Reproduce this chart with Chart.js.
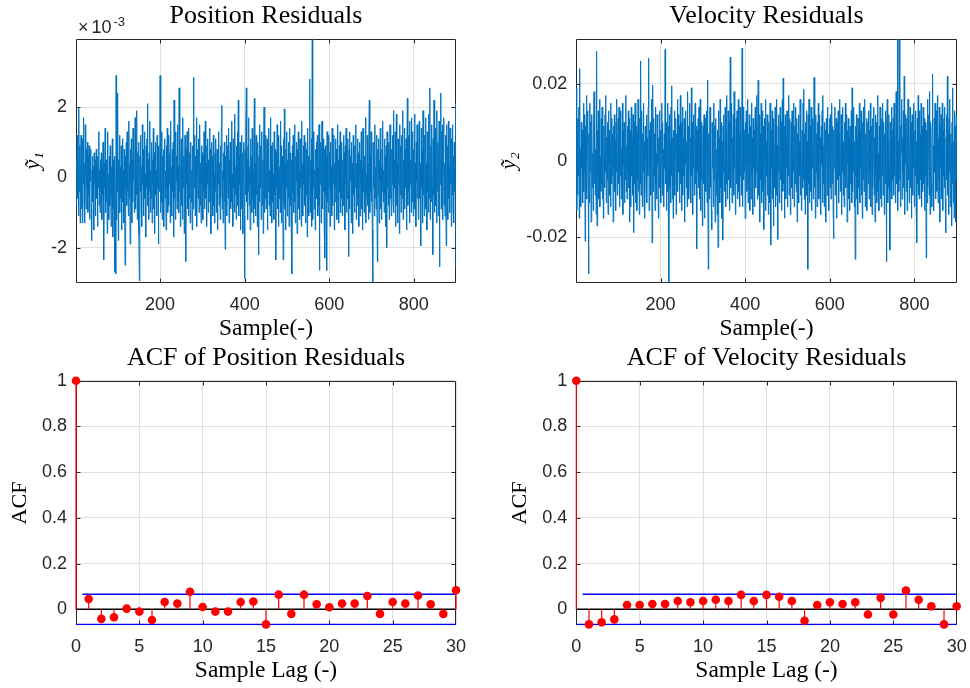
<!DOCTYPE html>
<html>
<head>
<meta charset="utf-8">
<script src="https://cdn.jsdelivr.net/npm/chart.js@4/dist/chart.umd.min.js"></script>
<style>
  html, body { margin: 0; padding: 0; background: #fff; width: 970px; height: 688px; overflow: hidden; }
  canvas { position: absolute; }
</style>
</head>
<body>
<canvas id="posRes" width="532" height="340" style="left:0;top:0"></canvas>
<canvas id="velRes" width="553" height="340" style="left:490px;top:0"></canvas>
<canvas id="posAcf" width="532" height="348" style="left:0;top:340px"></canvas>
<canvas id="velAcf" width="553" height="348" style="left:490px;top:340px"></canvas>
<script>
// ---- tick labels ----
const sampleTicks = [200, 400, 600, 800];
const posTicks = [-2, 0, 2];            // position residual, x10^-3
const velTicks = [-0.02, 0, 0.02];
const lagTicks = [0, 5, 10, 15, 20, 25, 30];
const acfTicks = [0, 0.2, 0.4, 0.6, 0.8, 1];

// ---- position residuals (units of 1e-3) ----
const posResid = [
  -0.8, 0.5, 0.1, 1.2, -0.6, 0.3, -1.1, 2.0, -0.4, 0.9,
  -1.3, 0.2, 1.2, -0.9, 0.6, -1.3, 1.1, -0.2, 1.7, -0.7,
  0.4, -1.3, 1.5, 0.1, -0.9, 0.8, -0.3, 1.0, -1.0, 0.6,
  -0.5, 0.9, -1.2, 0.4, -0.1, 0.8, -0.9, -1.8, 0.2, 0.6,
  -0.7, 0.3, -1.5, 0.7, -0.2, 0.5, -1.1, 0.1, 0.8, -0.6,
  0.3, -1.4, 0.6, -0.3, 1.3, -0.8, 0.2, -1.0, 0.5, -0.4,
  0.7, -1.2, 0.3, -0.5, 1.0, -0.9, -2.35, 0.4, -0.3, 1.4,
  -1.0, 0.2, -0.7, 0.5, -1.6, 1.3, -0.4, 0.1, -1.2, 0.6,
  -0.8, 0.9, -0.2, -1.4, 0.3, -0.6, 1.1, -1.7, 0.5, -0.9,
  0.4, -2.7, 0.6, -0.8, -2.75, 2.9, -1.2, 0.7, -0.4, 2.4,
  -1.8, 0.5, -0.2, 1.2, -1.0, 0.3, -0.6, 0.9, -1.5, 0.4,
  1.1, -0.7, 0.2, -1.3, 0.8, -0.5, -2.5, 0.6, -0.3, 1.0,
  -0.8, 1.3, -0.4, 0.1, -1.1, 1.6, -0.6, 0.4, -1.9, 0.8,
  -0.2, 1.1, -1.3, 0.5, -0.7, 1.4, -0.1, 0.6, -1.0, 0.3,
  1.7, -0.9, 0.2, -0.5, 1.9, -1.2, 0.7, -0.3, 1.0, -1.6,
  -2.95, 0.6, -0.4, 1.2, -0.9, 0.3, -1.4, 1.5, -0.2, 0.8,
  -1.1, 0.4, 1.3, -0.6, 0.1, -1.7, 0.9, -0.3, 1.1, 2.1,
  -0.8, 0.5, -1.2, 0.7, -0.4, 1.6, -1.0, 0.2, -0.6, 1.0,
  -1.3, 0.5, -0.2, 1.4, -0.9, 0.7, -1.6, 0.3, 1.0, -0.5,
  0.2, -1.1, 1.2, -0.3, 0.6, -1.9, 0.9, -0.4, 0.1, 2.9,
  -1.0, 0.4, -0.7, 1.3, -1.2, 0.6, -0.1, 0.8, -1.4, 0.3,
  1.1, -0.6, 0.2, -1.5, 0.9, -0.3, 1.4, -1.0, 0.5, -0.8,
  1.2, -0.2, 0.7, -1.3, 1.6, -0.5, 0.3, -1.1, 0.8, -0.4,
  1.0, -1.7, 2.2, -0.6, 0.4, -1.2, 1.3, -0.1, 0.6, -0.9,
  1.5, -0.7, 0.3, -1.0, 2.55, -0.4, 0.9, -1.4, 0.2, 1.1,
  -0.8, 0.5, -1.2, 1.7, -0.3, 0.6, -1.6, 0.4, 1.2, -0.5,
  -2.4, 0.8, -0.2, 1.3, -0.9, 0.1, -1.1, 1.4, -0.6, 0.7,
  -1.3, 0.4, 1.0, -0.7, 0.2, -1.5, 0.9, -0.9, 2.85, 0.5,
  -0.3, 1.2, -1.1, 0.6, -0.5, 1.7, -1.4, 0.3, 0.8, -0.6,
  1.1, -1.0, 0.2, 1.5, -0.8, 0.4, -1.3, 0.9, -0.2, 0.7,
  -1.2, 0.6, -0.4, 1.3, -0.9, 0.2, 1.6, -0.6, 0.4, -1.4,
  0.9, -0.2, 1.1, -1.0, 0.5, -0.7, 1.4, -0.3, 0.8, -1.6,
  0.3, 1.0, -0.5, 0.6, -1.1, 1.2, -0.8, 0.1, -1.3, 0.7,
  -0.4, 1.1, -1.0, 0.3, 0.8, -1.5, 0.5, -0.2, 1.3, -0.8,
  0.4, -1.2, 0.9, -0.6, 1.5, 2.05, -0.9, 0.2, -1.3, 0.7,
  -0.1, 1.0, -0.7, -2.05, 0.6, -0.4, 1.2, -1.1, 0.3, 0.9,
  -0.6, 1.4, -1.3, 0.5, -0.2, 1.0, -0.9, 0.4, 1.6, -0.7,
  0.1, -1.4, 1.1, -0.3, 0.7, -1.0, 1.8, -0.5, 0.3, -1.2,
  0.9, -0.4, 1.3, -0.8, 2.2, -1.1, 0.6, -0.2, 1.0, -1.5,
  0.4, -0.9, 1.2, -0.3, 0.7, -1.6, 0.2, 1.0, -1.1, -2.87,
  0.8, -0.5, 1.3, 2.55, -0.7, 0.5, -1.2, 0.9, -0.4, 1.7,
  -0.8, 0.3, -1.5, 1.1, -0.2, 0.6, -1.0, 1.4, -0.6, 0.2,
  -1.3, 0.8, 2.25, -0.9, 0.4, -1.1, 1.2, -0.5, 0.7, -1.4,
  1.0, -0.2, -2.2, 0.6, -0.7, 1.5, -0.3, 0.9, -1.2, 0.2,
  1.3, -0.8, 0.5, -1.6, 1.1, 2.0, -1.0, 0.4, -0.6, 1.2,
  -0.9, 0.3, 1.1, -1.5, 0.6, -0.4, 1.4, -0.8, 0.2, -1.1,
  1.7, -0.6, 0.9, -1.3, 0.4, 1.0, -0.7, 0.1, -1.2, 1.3,
  -0.5, 0.8, -1.0, -2.35, 0.7, -0.3, 1.5, -0.9, 0.5, -1.4,
  1.2, -0.6, 0.3, -1.0, 1.6, -0.4, 0.9, -1.3, 0.6, -0.2,
  -2.35, 1.1, -0.7, 1.95, -0.9, 0.4, -1.5, 0.8, -0.3, 1.3,
  -1.1, 0.5, -0.6, 1.0, -1.4, 0.2, 1.4, -0.8, 0.7, -1.2,
  0.5, -2.75, 0.9, -0.4, 1.2, -1.0, 0.3, -0.7, 1.5, -1.3,
  0.6, -0.1, 1.0, -1.6, 0.8, -0.5, 1.3, -0.9, 0.2, -1.2,
  1.1, -0.3, 0.7, -1.4, 1.6, -0.6, 0.4, -1.1, 0.9, -0.2,
  1.2, -0.8, 0.4, -1.3, 1.0, -0.5, 0.8, -1.7, 1.4, -0.2,
  0.6, -1.1, 0.3, 2.8, -1.0, 0.5, -0.7, 1.1, -1.4, 3.95,
  -1.2, 0.6, -0.3, 1.3, -0.9, 0.2, -1.5, 0.8, -0.4, 1.0,
  -0.6, 1.2, -1.1, 0.3, -0.8, 1.5, -2.65, 0.7, -0.2, 1.0,
  -1.3, 0.4, 1.6, -0.9, 0.5, -0.4, 1.1, -1.2, 0.8, -2.3,
  0.9, -0.5, 0.6, -2.65, 1.3, -0.7, 0.2, -1.0, 1.2, -0.3,
  0.7, -1.4, 1.0, -0.5, 0.3, -1.1, 1.4, -0.8, 0.6, -0.2,
  1.2, -1.5, 0.4, -0.7, 1.1, -0.3, 0.8, -1.2, 0.2, 1.5,
  -0.9, 0.5, -1.3, 0.9, -0.4, 1.3, -1.0, 0.1, -0.6, 1.0,
  -1.1, 0.5, -0.3, 1.2, -0.8, 0.7, -1.5, 0.9, -0.2, 1.4,
  -1.0, 0.3, -0.6, 1.1, -0.4, -2.25, 0.8, -0.9, 1.3, -0.1,
  0.6, -1.3, 1.0, -0.7, 0.4, -1.6, 1.2, -0.5, 0.2, -1.0,
  0.9, -0.3, 1.5, -1.2, 0.4, -0.8, 1.1, -0.6, 0.7, -1.4,
  0.2, 1.0, -1.1, 0.5, -0.2, 1.3, -0.9, 0.3, -1.5, 1.4,
  -0.4, 0.8, -1.0, 0.6, -0.7, 1.7, -1.3, 0.1, -0.5, 1.2,
  -0.8, 0.4, -1.2, 0.9, 2.2, -1.0, 0.6, -0.4, 1.3, -0.7,
  0.2, -1.5, -3.0, 1.0, -0.3, 0.7, -1.1, 1.5, -0.6, 0.3,
  -0.9, 1.2, -0.2, -2.4, 0.8, -0.5, 1.1, -1.3, 0.5, -0.1,
  1.4, -0.9, 0.3, -1.2, 0.8, -0.4, 1.6, -0.7, 0.2, -1.0,
  1.1, -0.5, 0.6, -1.4, 0.9, -2.0, 1.3, -0.3, 0.7, -0.8,
  1.0, -1.2, 0.4, 1.5, -0.6, 0.2, -1.1, 0.8, -0.2, 1.2,
  -0.7, 1.9, -1.0, 0.5, -0.3, 1.3, -1.4, 0.6, 1.8, -0.8,
  0.4, -1.3, 1.1, -0.2, 0.7, -1.6, 1.5, -0.5, 0.9, -1.0,
  0.3, 1.2, -0.6, 1.9, -1.2, 0.5, -0.4, 1.4, -0.9, 0.8,
  -0.3, 1.1, -1.5, 0.6, 2.25, -0.8, 1.2, -0.4, 0.9, -1.3,
  1.6, -0.2, 0.5, -1.0, 1.7, -0.7, 0.3, 1.3, -1.1, 0.8,
  -0.5, 1.8, -0.9, 0.4, -1.4, 1.0, -0.1, 1.5, -0.6, 0.7,
  -1.2, 0.9, 1.6, -0.6, 0.4, -1.0, -1.95, 1.4, -0.3, 0.8,
  -1.3, 1.9, -0.5, 0.6, -1.1, 1.2, -0.2, 1.7, -0.9, 0.4,
  -1.5, 1.3, -0.4, 0.7, -1.0, 1.8, -0.6, 2.55, -1.2, 0.5,
  0.9, -0.7, 1.5, -0.3, -2.2, 1.1, -0.5, 2.2, -1.0, 0.6,
  1.4, -0.8, 0.3, -1.3, 1.9, -0.4, 1.0, -1.1, 0.5, 1.6,
  -2.55, 0.8, -0.2, 2.4, -0.9, 1.3, -0.6, 1.5, -1.2, 0.7,
  1.7, -0.8, 0.4, -1.1, 1.2, -0.5, -1.95, 1.5, -0.3, 0.9,
  -1.2, 1.6, -0.6, 0.3, -1.0, 1.4, -0.2, 0.8, -1.4, 1.1,
  -0.5, 1.5, -0.9, 0.6, -1.3, 1.0, -0.4, 0.7, 2.1, -2.6
];

// ---- velocity residuals (units of 1e-3) ----
const velResid = [
  19, -13, 6, -9, 11, -4, 14, -15, 24, -7,
  3, -12, 10, -2, 8, -11, 5, 15, -8, 12,
  -3, -21, 9, -6, 17, -10, 4, 13, -5, -29.5,
  7, -11, 15, -3, 10, -16, 4, 12, -7, 2,
  -13, 9, 18, -6, 11, -9, 3, -14, 28.5, -17,
  8, -4, 13, -10, 6, 16, -12, 1, -8, 11,
  -6, 14, -10, 5, -15, 9, 2, -7, 12, -3,
  17, -11, 6, -5, 10, -14, 13, -1, 8, -9,
  4, -12, 15, -6, 11, -4, 7, -16, 9, -2,
  12, -8, 5, -13, 10, -3, 16, -9, 2, 11,
  -6, 14, -12, 7, -4, 13, -10, 3, -7, 15,
  -14, 8, -1, 10, -11, 6, -5, 17, -8, 4,
  -10, 9, -3, 13, -7, 11, -16, 5, 8, -12,
  14, -4, 6, -9, 12, -2, -18.7, 10, -6, 15,
  -11, 3, 9, -13, 7, -5, 16, -8, 2, -14,
  11, -6, 26, -9, 4, 13, -12, 7, -3, 15,
  -10, 5, -15, 9, 1, -7, 12, -11, 6, -4,
  14, 26.7, -13, 8, -2, 10, -9, 3, 16, -21.4,
  5, 19.7, -8, 11, -4, 7, -13, 14, -6, 2,
  -10, 12, -1, 9, -15, 6, -7, 13, -3, 8,
  -11, 4, 15, -9, 10, -5, 3, -12, 7, -2,
  29, -6, 10, -13, 4, -8, 15, -3, 9, -31.8,
  12, -7, 5, -11, 14, -4, 19.5, -10, 6, -15,
  8, -2, 13, -9, 3, 11, -14, 7, -5, 16,
  -8, 12, -3, 9, -11, 4, 17, -6, 10, -13,
  2, 14, -9, 6, -4, 11, -16, 8, -1, 13,
  -7, 5, -12, 18, -5, 9, -10, 3, 15, -8,
  6, -11, 19, -4, 10, -14, 7, -2, 12, -9,
  4, 15, -6, 9, -12, -23, 8, -3, 11, -7,
  14, -10, 2, 16, -13, 5, -5, 10, -17, 3,
  9, -6, 12, -15, 4, 11, -8, 2, 13, -11,
  21, -4, -28.3, 7, -10, 6, 14, -7, 3, -13,
  -18, 10, -2, 8, -12, 15, -5, 9, -16, 4,
  11, -9, 3, -14, 8, -22.6, 13, -4, 6, -11,
  16, -7, 2, 10, -15, 5, -20.7, 9, -3, 12,
  -8, 4, 14, -12, 7, -6, 17, -10, 1, 13,
  -5, 10, -13, 8, 27, -7, 4, 15, -11, 6,
  -3, 12, -9, 18, -2, 9, -14, 5, 11, -6,
  13, -10, 3, 16, -8, 7, -12, 14, -4, 10,
  -9, 6, 29.3, -12, 11, -5, 14, -3, 8, -15,
  10, -1, 13, -8, 4, 16, -11, 7, -6, 12,
  -13, 9, 2, -10, 15, -4, 6, -14, 11, -2,
  8, -12, 5, 14, -7, 10, -3, 17, -10, 6,
  21, -9, 3, 12, -16, 7, -5, 15, -11, 4,
  13, -8, 9, -18, 2, 11, -6, 16, -13, 5,
  -4, 12, -9, 7, -14, 10, 3, -11, 15, -6,
  -22, 8, -2, 13, -10, 6, -17, 11, 1, -7,
  14, -12, 5, 16, -9, 4, -20.5, 9, -3, 12,
  -11, 7, 14, -5, 10, -13, 3, 16, -8, 21.5,
  -6, 9, -15, 4, 12, -10, 6, -2, 13, -12,
  8, -4, 17, -9, 5, 11, -14, 2, 10, -7,
  13, -10, 6, -3, 15, -12, 9, -6, 4, 14,
  -8, 11, -16, 7, -1, 12, -11, 5, -4, 16,
  -9, 10, -13, 3, 8, -7, 15, -5, 18.6, -10,
  7, -14, 10, -4, 13, -9, 5, -28.3, 12, -6,
  16, -11, 3, 9, -8, 14, -13, 6, -2, 11,
  -10, 4, 21.7, -7, 9, -15, 12, -3, 7, -12,
  10, -5, 15, -10, 3, 12, -8, 6, -14, 9,
  -1, 13, -11, 17, -6, 4, -12, 10, -3, 8,
  -16, 11, 5, -9, 14, -4, 7, -13, 2, 11,
  -7, 12, -10, 4, 15, -6, 9, -13, -20.3, 8,
  -2, 14, -9, 6, 11, -15, 3, 10, -5, 13,
  -11, 7, -4, 16, -8, 2, 12, -14, 9, -3,
  14, -9, 5, -12, 10, -4, 15, -7, 3, 12,
  -16, 8, -1, 11, -10, 6, -13, 9, 4, -6,
  13, -11, 19, -8, 7, -3, 14, -12, 5, -25.7,
  9, -4, 12, -10, 6, -14, 11, 3, -7, 15,
  -11, 8, -2, 13, -9, 5, -15, 10, -5, 14,
  -8, 4, 16, -12, 7, -3, 11, -13, 2, 10,
  -6, 13, -10, 8, -3, 15, -12, 5, 9, -14,
  11, -7, 3, 14, -9, 6, -16, 12, -4, 10,
  -11, 7, 17, -8, 2, -13, 9, -5, 14, -10,
  6, -12, 11, -4, 15, -9, 3, 10, -14, 7,
  -6, 13, -2, -26.3, 9, 16, -11, 5, -7, 12,
  -3, -23.3, 10, -8, 4, 14, -10, 8, -5, 11,
  -9, 15, -4, 12, -11, 7, 18, -6, 10, 31.8,
  -13, 5, -8, 31.5, -5, 14, -12, 9, 2, 16,
  -10, 6, -3, 13, -7, 22, -14, 8, -1, 12,
  -8, 11, -13, 6, 16, -5, 9, -11, 3, 14,
  -7, 10, -15, 4, 12, -9, 7, -2, 15, -12,
  8, -4, 13, -10, 5, -21.4, 11, -6, 17, -9,
  4, 13, -10, 7, -5, 15, -12, 9, 2, -8,
  14, -6, 11, -13, 6, 10, -4, -25.3, 8, -11,
  16, -7, 3, 12, -9, 18, -14, 5, 10, -6,
  -12, 9, 22.6, -7, 4, -13, 11, -3, 15, -10,
  7, 13, -8, 2, 17, -11, 6, -5, 14, -16,
  9, -2, 12, -10, 5, 15, -13, 8, -4, 11,
  -7, 14, -10, -18.8, 6, 12, -5, 22, -9, 8,
  -14, 11, -3, 16, -12, 7, 4, -17, 10, -6,
  19, -11, 5, -15, 13, -8, 9, -16, 12, -5
];
const velUnit = 1e-3;

// ---- sample autocorrelation, lags 0..30 ----
const acfPos = [1, 0.045, -0.042, -0.035, 0.003, -0.010, -0.047, 0.032, 0.025, 0.077,
  0.010, -0.010, -0.010, 0.032, 0.034, -0.066, 0.064, -0.020, 0.064, 0.022,
  0.009, 0.025, 0.025, 0.058, -0.020, 0.032, 0.025, 0.060, 0.022, -0.020, 0.083];
const acfVel = [1, -0.066, -0.057, -0.044, 0.019, 0.019, 0.023, 0.023, 0.036, 0.031,
  0.036, 0.042, 0.036, 0.063, 0.036, 0.063, 0.055, 0.036, -0.050, 0.019,
  0.031, 0.023, 0.031, -0.023, 0.050, -0.023, 0.082, 0.042, 0.013, -0.066, 0.013];
const confBound = 0.066;   // approximate 95% bound
const boundStartLag = 0.5;

// ---- styling ----
const SANS = '"Liberation Sans", Arial, Helvetica, sans-serif';
const SERIF = '"Liberation Serif", "Times New Roman", serif';
const AXIS_COLOR = '#262626';
const GRID_COLOR = '#e0e0e0';
const LINE_BLUE = '#0072BD';

const fmt = v => String(+Number(v).toFixed(4));

// Box around the plot area with inward tick marks on all four sides
const framePlugin = {
  id: 'frame',
  beforeDatasetsDraw(chart) {
    const { ctx, chartArea: a, scales: { x, y } } = chart;
    const L = Math.round(a.left) + 0.5, R = Math.round(a.right) - 0.5;
    const T = Math.round(a.top) + 0.5, B = Math.round(a.bottom) - 0.5;
    const tl = 4;
    ctx.save();
    ctx.strokeStyle = AXIS_COLOR;
    ctx.lineWidth = 1;
    ctx.beginPath();
    ctx.rect(L, T, R - L, B - T);
    x.ticks.forEach(t => {
      const p = Math.round(x.getPixelForValue(t.value)) + 0.5;
      if (p <= L + 1 || p >= R - 1) return;
      ctx.moveTo(p, B); ctx.lineTo(p, B - tl);
      ctx.moveTo(p, T); ctx.lineTo(p, T + tl);
    });
    y.ticks.forEach(t => {
      const p = Math.round(y.getPixelForValue(t.value)) + 0.5;
      if (p <= T + 1 || p >= B - 1) return;
      ctx.moveTo(L, p); ctx.lineTo(L + tl, p);
      ctx.moveTo(R, p); ctx.lineTo(R - tl, p);
    });
    ctx.stroke();
    ctx.restore();
  }
};

// Exponent note above the position axis
const exponentPlugin = {
  id: 'exponent',
  afterDraw(chart) {
    const { ctx, chartArea: a } = chart;
    ctx.save();
    ctx.fillStyle = AXIS_COLOR;
    ctx.textBaseline = 'alphabetic';
    ctx.textAlign = 'left';
    ctx.font = '18px ' + SANS;
    ctx.fillText('\u00d7', a.left + 2, a.top - 5.5);
    ctx.fillText('10', a.left + 15.5, a.top - 5.5);
    ctx.font = '13px ' + SANS;
    ctx.fillText('-3', a.left + 37.5, a.top - 13);
    ctx.restore();
  }
};

function xScale(o) {
  return {
    type: 'linear', min: o.min, max: o.max,
    afterBuildTicks: s => { s.ticks = o.ticks.map(v => ({ value: v })); },
    afterFit: s => { s.height = o.height; },
    grid: { color: GRID_COLOR, lineWidth: 1, drawTicks: false },
    border: { display: false },
    ticks: { font: { family: SANS, size: 18 }, color: AXIS_COLOR, padding: o.labelPad,
             maxRotation: 0, autoSkip: false, callback: v => fmt(v) },
    title: { display: true, text: o.title, color: '#000',
             font: { family: SERIF, size: 23.5, lineHeight: 1 },
             padding: { top: 0, bottom: o.titlePad } }
  };
}

function yScale(o) {
  return {
    type: 'linear', min: o.min, max: o.max,
    afterBuildTicks: s => { s.ticks = o.ticks.map(v => ({ value: v })); },
    afterFit: s => { s.width = o.width; },
    grid: { color: GRID_COLOR, lineWidth: 1, drawTicks: false },
    border: { display: false },
    ticks: { font: { family: SANS, size: 18 }, color: AXIS_COLOR, padding: 9,
             autoSkip: false, callback: v => fmt(v) },
    title: { display: true, text: o.title, color: '#000',
             font: { family: SERIF, size: 22, lineHeight: 1, style: o.italic ? 'italic' : 'normal' },
             padding: { top: o.titlePad, bottom: 0 } }
  };
}

// Empty right-hand margin so the plot title sits centred over the plot area
function rightMargin(width) {
  return {
    type: 'linear', position: 'right', display: true,
    afterFit: s => { s.width = width; },
    grid: { display: false, drawTicks: false }, border: { display: false },
    ticks: { display: false }, title: { display: false }
  };
}

function baseOptions(o) {
  return {
    responsive: false, animation: false, events: [],
    layout: { padding: 0 },
    plugins: {
      legend: { display: false }, tooltip: { enabled: false },
      title: { display: true, text: o.title, color: '#000',
               font: { family: SERIF, size: 26, weight: 'normal', lineHeight: 1.2 },
               padding: { top: o.titleTop, bottom: o.titleBottom } }
    },
    scales: { x: o.x, y: o.y, yR: rightMargin(o.padRight) }
  };
}

function residualChart(id, values, unit, o) {
  const pts = values.map((v, i) => ({ x: i + 1, y: v * unit }));
  return new Chart(document.getElementById(id), {
    type: 'line',
    data: { datasets: [{ data: pts, borderColor: LINE_BLUE, borderWidth: 1,
                         pointRadius: 0, tension: 0, fill: false }] },
    options: baseOptions(o),
    plugins: o.extra ? [framePlugin, o.extra] : [framePlugin]
  });
}

function acfChart(id, acf, o) {
  const lastLag = acf.length - 1;
  const stems = [];
  acf.forEach((v, k) => { stems.push({ x: k, y: 0 }, { x: k, y: v }, { x: k, y: null }); });
  const markers = acf.map((v, k) => ({ x: k, y: v }));
  return new Chart(document.getElementById(id), {
    type: 'line',
    data: { datasets: [
      { data: markers, showLine: false, pointRadius: 4.3, pointBackgroundColor: '#ff0000',
        pointBorderWidth: 0, clip: false },
      { data: stems, borderColor: '#ff0000', borderWidth: 1.2, pointRadius: 0,
        spanGaps: false, clip: false },
      { data: [{ x: 0, y: 0 }, { x: lastLag, y: 0 }], borderColor: '#000', borderWidth: 1.6, pointRadius: 0 },
      { data: [{ x: boundStartLag, y: confBound }, { x: lastLag, y: confBound }],
        borderColor: '#0000ff', borderWidth: 1.5, pointRadius: 0 },
      { data: [{ x: 0, y: -confBound }, { x: lastLag, y: -confBound }],
        borderColor: '#0000ff', borderWidth: 1.5, pointRadius: 0 }
    ] },
    options: baseOptions(o),
    plugins: [framePlugin]
  });
}

const N = posResid.length;

residualChart('posRes', posResid, 1, {
  title: 'Position Residuals', titleTop: 0.6, titleBottom: 6.9, padRight: 76,
  extra: exponentPlugin,
  x: xScale({ min: 1, max: N, ticks: sampleTicks, height: 57.3, labelPad: 12, title: 'Sample(-)', titlePad: -1 }),
  y: yScale({ min: -3.0, max: 3.95, ticks: posTicks, width: 76, title: '\u1ef9\u2081', italic: true, titlePad: 22 })
});

residualChart('velRes', velResid, velUnit, {
  title: 'Velocity Residuals', titleTop: 0.6, titleBottom: 6.9, padRight: 86.3,
  x: xScale({ min: 1, max: velResid.length, ticks: sampleTicks, height: 57.3, labelPad: 12, title: 'Sample(-)', titlePad: -1 }),
  y: yScale({ min: -0.0318, max: 0.0318, ticks: velTicks, width: 86.3, title: '\u1ef9\u2082', italic: true, titlePad: 8 })
});

acfChart('posAcf', acfPos, {
  title: 'ACF of Position Residuals', titleTop: 2.3, titleBottom: 7.2, padRight: 76,
  x: xScale({ min: 0, max: 30, ticks: lagTicks, height: 62.7, labelPad: 11, title: 'Sample Lag (-)', titlePad: 5 }),
  y: yScale({ min: -0.07, max: 1, ticks: acfTicks, width: 76, title: 'ACF', titlePad: 9 })
});

acfChart('velAcf', acfVel, {
  title: 'ACF of Velocity Residuals', titleTop: 2.3, titleBottom: 7.2, padRight: 86.3,
  x: xScale({ min: 0, max: 30, ticks: lagTicks, height: 62.7, labelPad: 11, title: 'Sample Lag (-)', titlePad: 5 }),
  y: yScale({ min: -0.07, max: 1, ticks: acfTicks, width: 86.3, title: 'ACF', titlePad: 19 })
});
</script>
</body>
</html>
